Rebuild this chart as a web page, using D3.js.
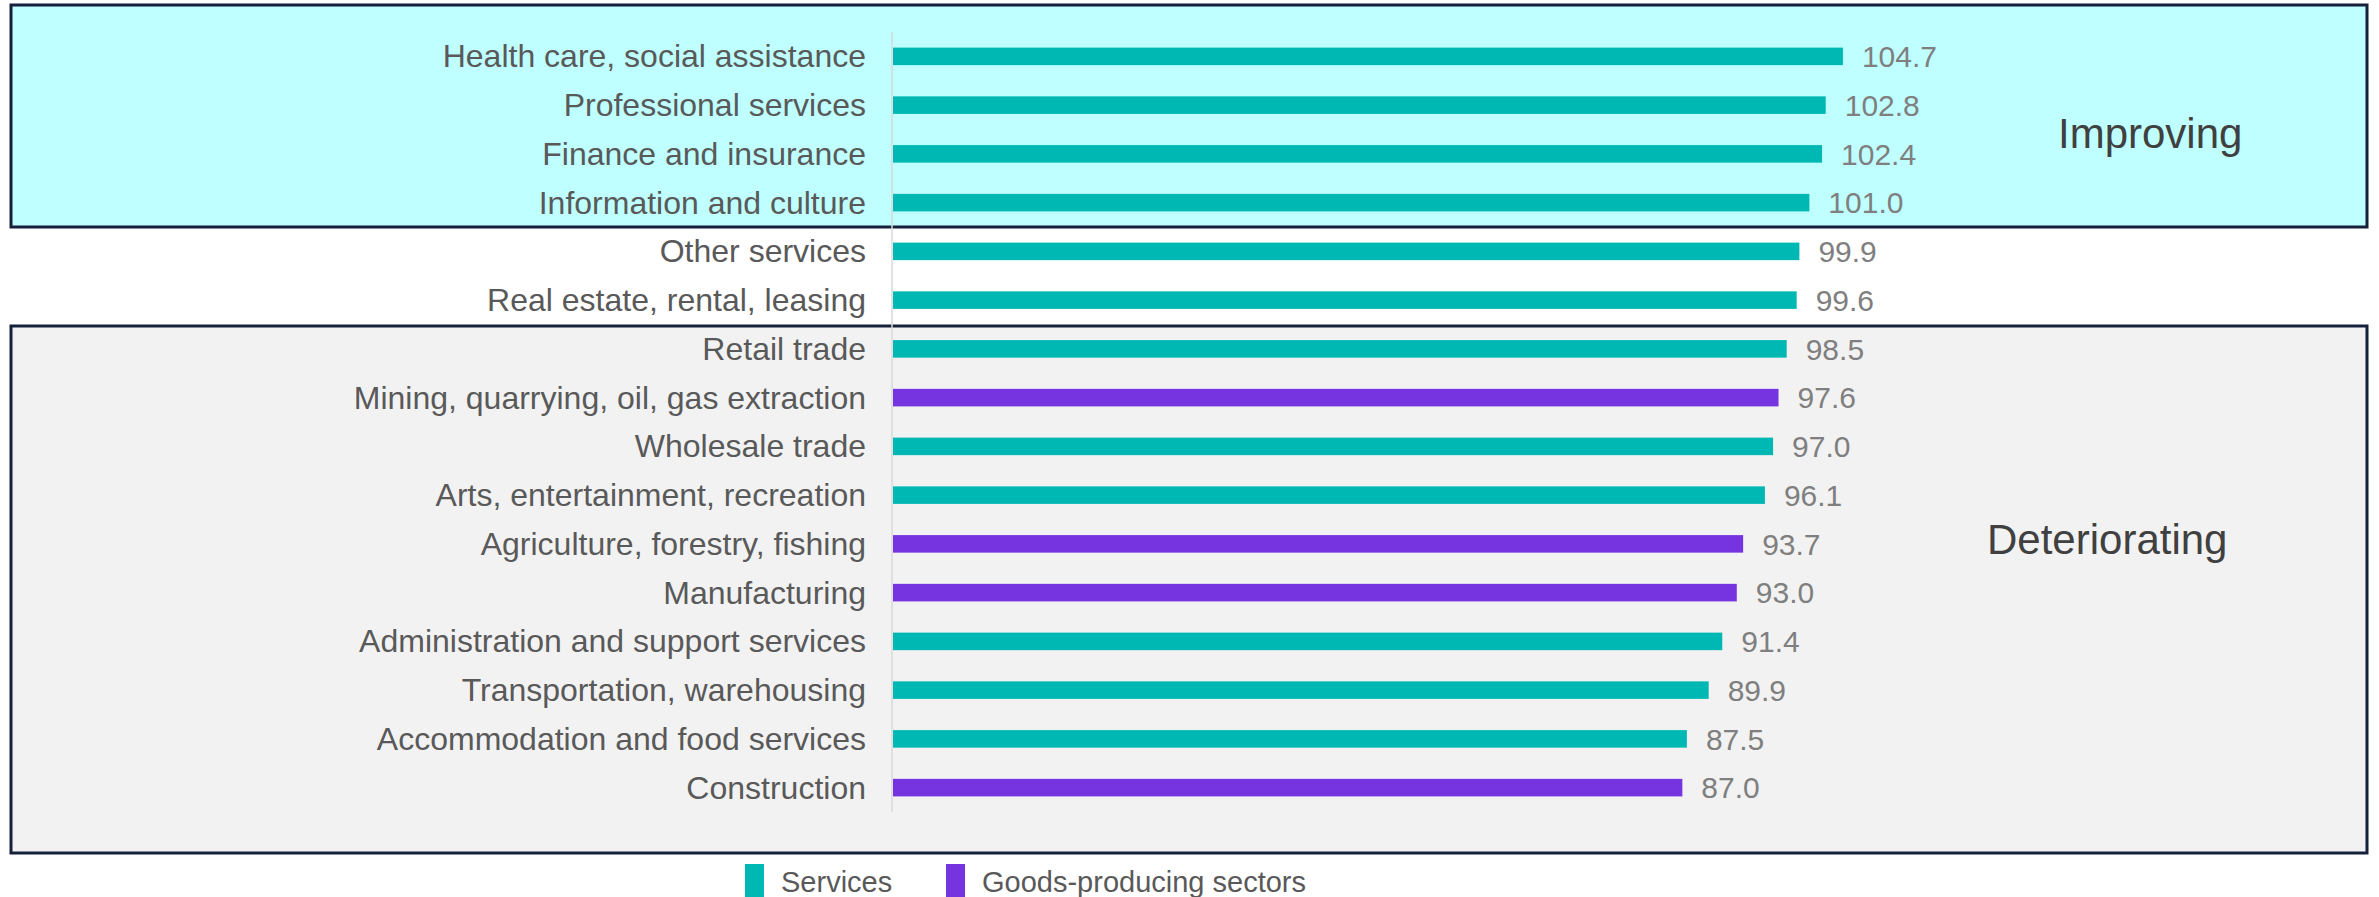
<!DOCTYPE html>
<html>
<head>
<meta charset="utf-8">
<script src="https://cdn.jsdelivr.net/npm/d3@7"></script>
<style>
  html, body { margin: 0; padding: 0; background: #ffffff; }
  svg { display: block; font-family: "Liberation Sans", Arial, sans-serif; }
</style>
</head>
<body>
<svg id="chart" width="2379" height="897"></svg>
<script>
// Industry index values, sorted from best to worst
const categories = [
  "Health care, social assistance",
  "Professional services",
  "Finance and insurance",
  "Information and culture",
  "Other services",
  "Real estate, rental, leasing",
  "Retail trade",
  "Mining, quarrying, oil, gas extraction",
  "Wholesale trade",
  "Arts, entertainment, recreation",
  "Agriculture, forestry, fishing",
  "Manufacturing",
  "Administration and support services",
  "Transportation, warehousing",
  "Accommodation and food services",
  "Construction"
];
const values = [104.7, 102.8, 102.4, 101.0, 99.9, 99.6, 98.5, 97.6, 97.0, 96.1, 93.7, 93.0, 91.4, 89.9, 87.5, 87.0];
const sectorType = ["Services", "Services", "Services", "Services", "Services", "Services", "Services",
  "Goods-producing sectors", "Services", "Services", "Goods-producing sectors", "Goods-producing sectors",
  "Services", "Services", "Services", "Goods-producing sectors"];
const seriesNames = ["Services", "Goods-producing sectors"];
const zoneLabels = ["Improving", "Deteriorating"];

const data = categories.map((c, i) => ({ category: c, value: values[i], type: sectorType[i] }));

const svg = d3.select("#chart");

const color = d3.scaleOrdinal().domain(seriesNames).range(["#00b8b3", "#7633e0"]);

const x = d3.scaleLinear().domain([0, 120]).range([893, 893 + 120 * 9.073]);
const y = d3.scaleBand().domain(categories).range([32, 812]).paddingInner(0.64).paddingOuter(0.32);

// Shaded zones: improving industries and deteriorating industries
const zones = [
  { x0: 11, y0: 5, x1: 2367, y1: 227, fill: "#bfffff" },
  { x0: 11, y0: 326, x1: 2367, y1: 853, fill: "#f2f2f2" }
];
svg.append("g").selectAll("rect").data(zones).join("rect")
  .attr("x", d => d.x0).attr("y", d => d.y0)
  .attr("width", d => d.x1 - d.x0).attr("height", d => d.y1 - d.y0)
  .attr("fill", d => d.fill)
  .attr("stroke", "#15213a").attr("stroke-width", 3);

// Category axis line
svg.append("line")
  .attr("x1", x(0) - 1).attr("x2", x(0) - 1)
  .attr("y1", y.range()[0]).attr("y2", y.range()[1])
  .attr("stroke", "#d9d9d9").attr("stroke-width", 1.5);

// Bars
svg.append("g").selectAll("rect").data(data).join("rect")
  .attr("x", x(0))
  .attr("y", d => y(d.category))
  .attr("width", d => x(d.value) - x(0))
  .attr("height", y.bandwidth())
  .attr("fill", d => color(d.type));

// Category labels
const catSize = 32;
svg.append("g").selectAll("text").data(data).join("text")
  .attr("x", 866)
  .attr("y", d => y(d.category) + y.bandwidth() / 2 + catSize * 0.345)
  .attr("text-anchor", "end")
  .attr("font-size", catSize)
  .attr("fill", "#595959")
  .text(d => d.category);

// Value labels
const valSize = 30;
svg.append("g").selectAll("text").data(data).join("text")
  .attr("x", d => x(d.value) + 19)
  .attr("y", d => y(d.category) + y.bandwidth() / 2 + valSize * 0.36)
  .attr("font-size", valSize)
  .attr("fill", "#7f7f7f")
  .text(d => d3.format(".1f")(d.value));

// Zone titles
svg.append("text").attr("x", 2058).attr("y", 148)
  .attr("font-size", 42).attr("fill", "#404040").text(zoneLabels[0]);
svg.append("text").attr("x", 1987).attr("y", 554)
  .attr("font-size", 42).attr("fill", "#404040").text(zoneLabels[1]);

// Legend
const legendX = [745, 946];
const legend = svg.append("g").selectAll("g").data(seriesNames).join("g")
  .attr("transform", (d, i) => `translate(${legendX[i]},0)`);
legend.append("rect")
  .attr("x", 0).attr("y", 864).attr("width", 19).attr("height", 40)
  .attr("fill", d => color(d));
legend.append("text")
  .attr("x", 36).attr("y", 892)
  .attr("font-size", 29).attr("fill", "#595959")
  .text(d => d);
</script>
</body>
</html>
